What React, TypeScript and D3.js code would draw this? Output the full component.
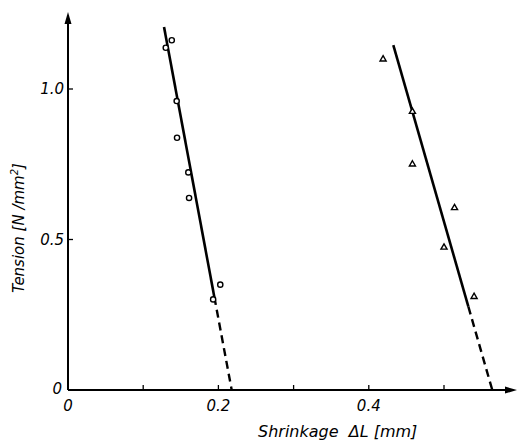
import React, { useEffect, useRef } from 'react';
import * as d3 from 'd3';

// circles: first series (shrinkage in mm, tension in N/mm2)
const circleX = [0.130, 0.138, 0.1445, 0.145, 0.160, 0.161, 0.193, 0.2025];
const circleY = [1.137, 1.162, 0.960, 0.838, 0.723, 0.638, 0.301, 0.350];

// triangles: second series
const triX = [0.419, 0.458, 0.458, 0.514, 0.500, 0.540];
const triY = [1.099, 0.925, 0.750, 0.605, 0.474, 0.310];

// fitted lines: solid part, then dashed extrapolation to zero tension
const fitSolidA = [[0.1277, 1.206], [0.1946, 0.309]];
const fitDashA = [[0.1946, 0.309], [0.2177, 0]];
const fitSolidB = [[0.4326, 1.146], [0.5324, 0.277]];
const fitDashB = [[0.5324, 0.277], [0.5642, 0]];

const xTicks = [0.1, 0.2, 0.3, 0.4, 0.5];
const xTickLabels = ['0', '0.2', '0.4'];
const xLabelValues = [0, 0.2, 0.4];
const yTicks = [0.5, 1.0];
const yTickLabels = ['0.5', '1.0'];

const App = () => {
  const ref = useRef<SVGSVGElement>(null);

  useEffect(() => {
    const width = 518;
    const height = 442;
    const svg = d3.select(ref.current);
    svg.selectAll('*').remove();

    const x = d3.scaleLinear().domain([0, 0.6]).range([68, 68 + 0.6 * 752]);
    const y = d3.scaleLinear().domain([0, 1]).range([390, 89]);
    const font = "'DejaVu Sans', sans-serif";

    svg.attr('width', width).attr('height', height);

    // axes
    svg.append('line')
      .attr('x1', x(0)).attr('y1', y(0))
      .attr('x2', x(0)).attr('y2', 20)
      .attr('stroke', '#000').attr('stroke-width', 2);
    svg.append('path')
      .attr('d', `M${x(0)},12 L${x(0) - 3.5},24 L${x(0) + 3.5},24 Z`)
      .attr('fill', '#000');

    svg.append('line')
      .attr('x1', x(0)).attr('y1', y(0))
      .attr('x2', 508).attr('y2', y(0))
      .attr('stroke', '#000').attr('stroke-width', 2);
    svg.append('path')
      .attr('d', `M517,${y(0)} L505,${y(0) - 3.5} L505,${y(0) + 3.5} Z`)
      .attr('fill', '#000');

    // ticks
    svg.selectAll('.xt').data(xTicks).enter().append('line')
      .attr('x1', d => x(d)).attr('x2', d => x(d))
      .attr('y1', y(0)).attr('y2', y(0) - 5)
      .attr('stroke', '#000').attr('stroke-width', 1.3);
    svg.selectAll('.yt').data(yTicks).enter().append('line')
      .attr('x1', x(0)).attr('x2', x(0) + 5)
      .attr('y1', d => y(d)).attr('y2', d => y(d))
      .attr('stroke', '#000').attr('stroke-width', 1.3);

    // tick labels
    svg.selectAll('.xl').data(xLabelValues).enter().append('text')
      .attr('x', d => x(d))
      .attr('y', y(0) + 21)
      .attr('text-anchor', 'middle')
      .attr('font-family', font).attr('font-style', 'italic').attr('font-size', 15)
      .text((d, i) => xTickLabels[i]);
    svg.selectAll('.yl').data(yTicks).enter().append('text')
      .attr('x', x(0) - 4)
      .attr('y', d => y(d) + 5)
      .attr('text-anchor', 'end')
      .attr('font-family', font).attr('font-style', 'italic').attr('font-size', 15)
      .text((d, i) => yTickLabels[i]);
    svg.append('text')
      .attr('x', x(0) - 6).attr('y', y(0) + 4)
      .attr('text-anchor', 'end')
      .attr('font-family', font).attr('font-style', 'italic').attr('font-size', 15)
      .text('0');

    // axis titles
    svg.append('text')
      .attr('x', 258).attr('y', 437)
      .attr('font-family', font).attr('font-style', 'italic').attr('font-size', 16)
      .attr('xml:space', 'preserve')
      .text('Shrinkage  ΔL [mm]');
    const yt = svg.append('text')
      .attr('transform', 'translate(24, 228) rotate(-90)')
      .attr('text-anchor', 'middle')
      .attr('font-family', font).attr('font-style', 'italic').attr('font-size', 15);
    yt.append('tspan').text('Tension [N /mm');
    yt.append('tspan').attr('dy', -6).attr('font-size', 10).text('2');
    yt.append('tspan').attr('dy', 6).text(']');

    // fitted lines
    const line = d3.line<number[]>().x(d => x(d[0])).y(d => y(d[1]));
    [fitSolidA, fitSolidB].forEach(seg => {
      svg.append('path').attr('d', line(seg))
        .attr('fill', 'none').attr('stroke', '#000').attr('stroke-width', 2.6);
    });
    [fitDashA, fitDashB].forEach(seg => {
      svg.append('path').attr('d', line(seg))
        .attr('fill', 'none').attr('stroke', '#000').attr('stroke-width', 2.4)
        .attr('stroke-dasharray', '8,5');
    });

    // circle markers
    svg.selectAll('.c').data(circleX).enter().append('circle')
      .attr('cx', d => x(d))
      .attr('cy', (d, i) => y(circleY[i]))
      .attr('r', 2.6)
      .attr('fill', '#fff').attr('stroke', '#000').attr('stroke-width', 1.4);

    // triangle markers
    const tri = d3.symbol().type(d3.symbolTriangle).size(16);
    svg.selectAll('.t').data(triX).enter().append('path')
      .attr('d', tri)
      .attr('transform', (d, i) => `translate(${x(d)}, ${y(triY[i])})`)
      .attr('fill', '#fff').attr('stroke', '#000').attr('stroke-width', 1.4);
  }, []);

  return <svg ref={ref} style={{ position: 'absolute', left: 0, top: 0, background: '#fff' }} />;
};

export default App;
